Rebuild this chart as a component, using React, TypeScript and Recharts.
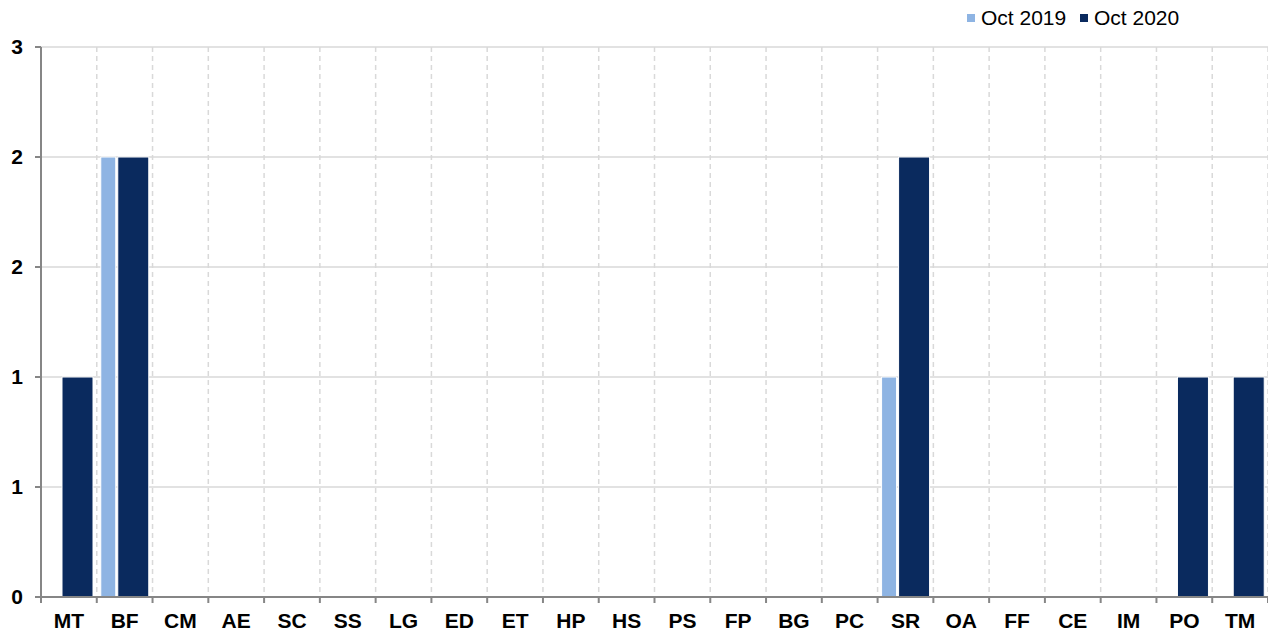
import { BarChart, Bar, XAxis, YAxis, CartesianGrid } from "recharts"

const categories = ["MT", "BF", "CM", "AE", "SC", "SS", "LG", "ED", "ET", "HP", "HS", "PS", "FP", "BG", "PC", "SR", "OA", "FF", "CE", "IM", "PO", "TM"]
const oct2019 = [0, 2, 0, 0, 0, 0, 0, 0, 0, 0, 0, 0, 0, 0, 0, 1, 0, 0, 0, 0, 0, 0]
const oct2020 = [1, 2, 0, 0, 0, 0, 0, 0, 0, 0, 0, 0, 0, 0, 0, 2, 0, 0, 0, 0, 1, 1]
const yTicks = [0, 0.5, 1, 1.5, 2, 2.5]

const series = [
  { key: "oct2019", name: "Oct 2019", color: "#8eb4e3" },
  { key: "oct2020", name: "Oct 2020", color: "#0a2a5e" },
]

const data = categories.map((c, i) => ({ cat: c, oct2019: oct2019[i], oct2020: oct2020[i] }))

const W = 1268
const H = 633
const PLOT_LEFT = 41
const PLOT_BOTTOM = 597
const BAND = (W - PLOT_LEFT) / categories.length
const FONT = "'Liberation Sans', Arial, sans-serif"

// category label + boundary tick marks (Excel style)
const XTick = (props: any) => {
  const { x, payload, index } = props
  const left = x - BAND / 2
  return (
    <g>
      <line x1={left} x2={left} y1={PLOT_BOTTOM} y2={PLOT_BOTTOM + 6} stroke="#868686" strokeWidth={2} />
      {index === categories.length - 1 && (
        <line x1={x + BAND / 2} x2={x + BAND / 2} y1={PLOT_BOTTOM} y2={PLOT_BOTTOM + 6} stroke="#868686" strokeWidth={2} />
      )}
      <text x={x} y={628} textAnchor="middle" fontFamily={FONT} fontWeight="bold" fontSize={21} fill="#000">
        {payload.value}
      </text>
    </g>
  )
}

export default function App() {
  return (
    <div style={{ position: "fixed", top: 0, left: 0, width: W, height: H, background: "#fff", overflow: "hidden" }}>
      <div
        style={{
          position: "absolute",
          top: 6,
          left: 967,
          display: "flex",
          fontFamily: FONT,
          fontSize: 21,
          color: "#000",
          zIndex: 1,
        }}
      >
        {series.map((s) => (
          <div key={s.key} style={{ display: "flex", alignItems: "center", width: 113 }}>
            <span style={{ display: "inline-block", width: 8, height: 8, background: s.color, marginRight: 6 }} />
            <span>{s.name}</span>
          </div>
        ))}
      </div>
      <BarChart
        width={W}
        height={H}
        data={data}
        margin={{ top: 47, right: 0, bottom: 0, left: 0 }}
        barGap={2}
      >
        <CartesianGrid vertical={false} stroke="#d9d9d9" strokeWidth={1.5} />
        <CartesianGrid
          horizontal={false}
          stroke="#d9d9d9"
          strokeWidth={1.5}
          strokeDasharray="5 4"
          verticalCoordinatesGenerator={({ offset }: any) =>
            categories.map((_, i) => offset.left + (offset.width / categories.length) * i).concat([offset.left + offset.width])
          }
        />
        <XAxis
          dataKey="cat"
          interval={0}
          height={H - PLOT_BOTTOM}
          axisLine={{ stroke: "#868686", strokeWidth: 2 }}
          tickLine={false}
          tick={<XTick />}
        />
        <YAxis
          width={PLOT_LEFT}
          domain={[0, 2.5]}
          ticks={yTicks}
          interval={0}
          tickFormatter={(v: number) => String(Math.round(v))}
          axisLine={{ stroke: "#868686", strokeWidth: 2 }}
          tickLine={{ stroke: "#868686", strokeWidth: 2 }}
          tickSize={6}
          tickMargin={12}
          tick={{ fontFamily: FONT, fontWeight: "bold", fontSize: 21, fill: "#000" }}
        />
        {series.map((s) => (
          <Bar
            key={s.key}
            dataKey={s.key}
            name={s.name}
            fill={s.color}
            stroke="#ffffff"
            strokeWidth={1}
            barSize={s.key === "oct2019" ? 15 : 31}
            isAnimationActive={false}
          />
        ))}
      </BarChart>
    </div>
  )
}
